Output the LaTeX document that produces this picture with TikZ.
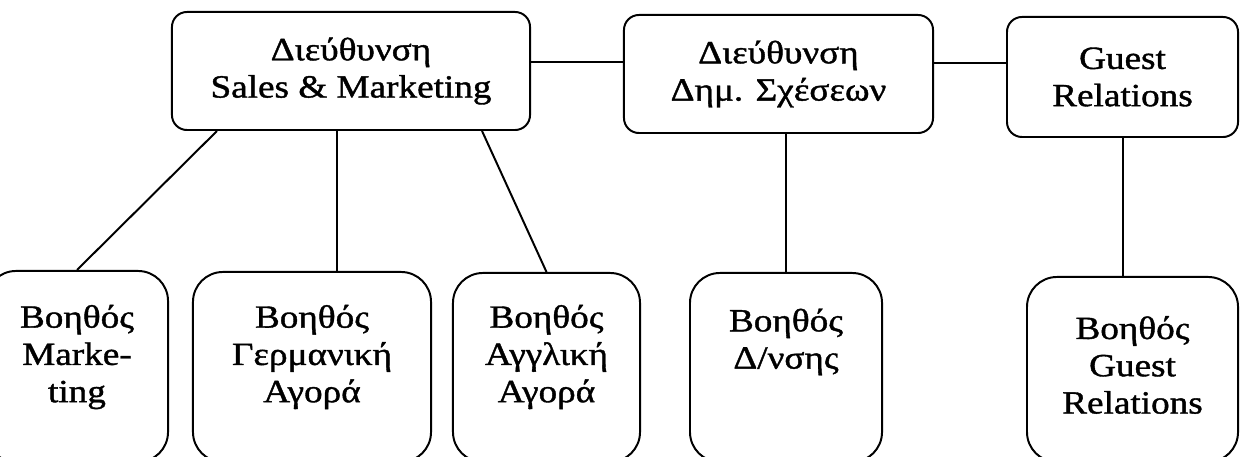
\documentclass[tikz,border=0pt]{standalone}
\usepackage{fontspec}
\usepackage{tikz}
\usetikzlibrary{positioning}
\newfontfamily\greekSerif[FakeStretch=1.15, FakeBold=1.2]{Liberation Serif}
\newcommand{\chartFont}{\greekSerif\fontsize{23}{26.5}\selectfont}
\tikzstyle{orgChart} = [x = 0.025cm, y = -0.025cm]
\tikzstyle{boxLine} = [line width=1.4pt]
\tikzstyle{headBox} = [boxLine, draw, rounded corners = .375cm, align=center, font=\chartFont, inner sep=0pt]
\tikzstyle{helperBox} = [boxLine, draw, rounded corners = .75cm, inner sep=0pt]
\tikzstyle{helperText} = [align=center, font=\chartFont, inner sep=0pt]
\tikzstyle{link} = [boxLine]
\newcommand{\assistantBox}[7]{
  \node [helperBox, minimum width=#4cm, minimum height=#5cm] (#1) at (#2,#3) {};
  \node [helperText] (#1Text) at (#2,#6) {#7};
}

\begin{document}
\begin{tikzpicture}[orgChart]
    \useasboundingbox (0,0) rectangle (1240,457);
    \node [headBox, minimum width=8.95cm, minimum height=2.95cm] (salesMkt) at (351,71) {Διεύθυνση\\Sales \& Marketing};
    \node [headBox, minimum width=7.725cm, minimum height=2.95cm] (pubRel) at (778.5,74) {Διεύθυνση\\Δημ. Σχέσεων};
    \node [headBox, minimum width=5.775cm, minimum height=3cm] (guestRel) at (1122.5,77) {Guest\\Relations};
    \assistantBox{asstMkt}{77}{366.5}{4.55}{4.775}{357}{Βοηθός\\Marke-\\ting}
    \assistantBox{asstDe}{312}{367}{5.95}{4.75}{357}{Βοηθός\\Γερμανική\\Αγορά}
    \assistantBox{asstEn}{546.5}{367.5}{4.675}{4.725}{357}{Βοηθός\\Αγγλική\\Αγορά}
    \assistantBox{asstPr}{786}{367.5}{4.8}{4.725}{342}{Βοηθός\\Δ/νσης}
    \assistantBox{asstGuest}{1132.5}{369.5}{5.275}{4.625}{365}{Βοηθός\\Guest\\Relations}
    \draw [link] (salesMkt.3) -- (salesMkt.3 -| pubRel.west);
    \draw [link] (pubRel.4) -- (pubRel.4 -| guestRel.west);
    \draw [link] ([xshift=-3.35cm]salesMkt.south) -- (asstMkt.north);
    \draw [link] ([xshift=-.35cm]salesMkt.south) -- ([xshift=-.35cm]salesMkt.south |- asstDe.north);
    \draw [link] ([xshift=3.275cm]salesMkt.south) -- (asstEn.north);
    \draw [link] (pubRel.south -| asstPr.north) -- (asstPr.north);
    \draw [link] (guestRel.south) -- (guestRel.south |- asstGuest.north);
\end{tikzpicture}
\end{document}
